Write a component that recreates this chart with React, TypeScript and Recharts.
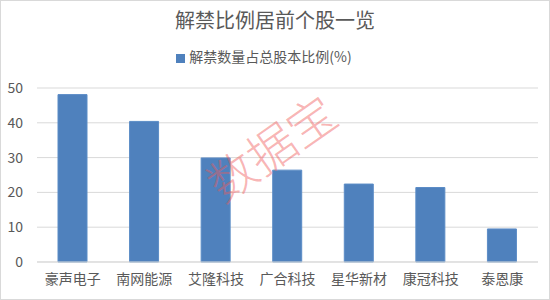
import React from "react";
import { BarChart, Bar, XAxis, YAxis, CartesianGrid, Legend } from "recharts";

const categories = ["豪声电子", "南网能源", "艾隆科技", "广合科技", "星华新材", "康冠科技", "泰恩康"];
const ratios = [48.1, 40.4, 29.9, 26.4, 22.4, 21.4, 9.5];
const yTicks = [0, 10, 20, 30, 40, 50];
const seriesName = "解禁数量占总股本比例(%)";
const title = "解禁比例居前个股一览";

const data = categories.map((c, i) => ({ name: c, value: ratios[i] }));

const FONT = '"Noto Sans CJK SC", "Noto Sans", sans-serif';

export default function App() {
  return (
    <div style={{ position: "absolute", left: 0, top: 0, width: 550, height: 300, background: "#fff", fontFamily: FONT }}>
      <BarChart
        width={550}
        height={300}
        data={data}
        margin={{ top: 68, right: 12, bottom: 8, left: 0 }}
        barSize={29}
      >
        <CartesianGrid vertical={false} stroke="#d9d9d9" />
        <XAxis
          dataKey="name"
          height={30}
          tickLine={false}
          axisLine={{ stroke: "#d9d9d9" }}
          tick={{ fill: "#595959", fontSize: 14, fontFamily: FONT }}
          tickMargin={6}
          interval={0}
        />
        <YAxis
          width={37}
          domain={[0, 50]}
          ticks={yTicks}
          tickLine={false}
          axisLine={false}
          tick={{ fill: "#595959", fontSize: 14, fontFamily: FONT }}
          tickMargin={8}
        />
        <Legend
          verticalAlign="top"
          align="center"
          iconType="square"
          iconSize={9}
          wrapperStyle={{ top: 46, fontSize: 14, fontFamily: FONT }}
          formatter={(v) => <span style={{ color: "#595959" }}>{v}</span>}
        />
        <Bar dataKey="value" name={seriesName} fill="#4f81bd" stroke="#5b8cc6" isAnimationActive={false} />
      </BarChart>
      <div
        style={{
          position: "absolute",
          left: 190,
          top: 118,
          width: 160,
          textAlign: "center",
          fontSize: 48,
          fontWeight: 300,
          lineHeight: "56px",
          color: "rgba(240, 90, 90, 0.45)",
          transform: "rotate(-35deg)",
          fontFamily: FONT,
          pointerEvents: "none",
        }}
      >
        数据宝
      </div>
      <div
        style={{
          position: "absolute",
          left: 0,
          top: 6,
          width: 550,
          textAlign: "center",
          fontSize: 20,
          color: "#595959",
          fontFamily: FONT,
          lineHeight: "28px",
        }}
      >
        {title}
      </div>
      <div
        style={{
          position: "absolute",
          left: 0,
          top: 0,
          width: 550,
          height: 300,
          boxSizing: "border-box",
          border: "1px solid #d9d9d9",
          pointerEvents: "none",
        }}
      />
    </div>
  );
}
